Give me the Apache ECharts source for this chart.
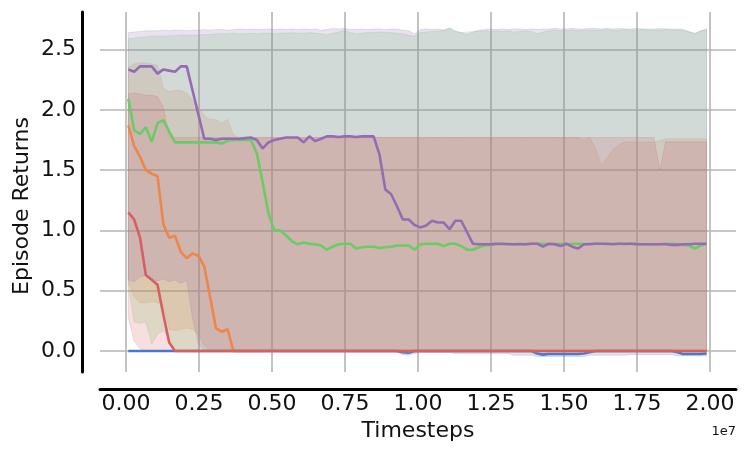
<!DOCTYPE html>
<html>
<head>
<meta charset="utf-8">
<script src="https://cdn.jsdelivr.net/npm/echarts@6/dist/echarts.min.js"></script>
<style>
  html, body { margin: 0; padding: 0; background: #fff; }
  #main { width: 748px; height: 457px; }
</style>
</head>
<body>
<div id="main"></div>
<script>
// timesteps, in millions (axis labels are shown in units of 1e7)
const timestepsM = [
  0.08, 0.28, 0.48, 0.68, 0.88, 1.08, 1.28, 1.48, 1.68, 1.88,
  2.08, 2.28, 2.48, 2.68, 2.88, 3.08, 3.28, 3.48, 3.68, 3.88,
  4.08, 4.28, 4.48, 4.68, 4.88, 5.08, 5.28, 5.48, 5.68, 5.88,
  6.08, 6.28, 6.48, 6.68, 6.88, 7.08, 7.28, 7.48, 7.68, 7.88,
  8.08, 8.28, 8.48, 8.68, 8.88, 9.08, 9.28, 9.48, 9.68, 9.88,
  10.08, 10.28, 10.48, 10.68, 10.88, 11.08, 11.28, 11.48, 11.68, 11.88,
  12.08, 12.28, 12.48, 12.68, 12.88, 13.08, 13.28, 13.48, 13.68, 13.88,
  14.08, 14.28, 14.48, 14.68, 14.88, 15.08, 15.28, 15.48, 15.68, 15.88,
  16.08, 16.28, 16.48, 16.68, 16.88, 17.08, 17.28, 17.48, 17.68, 17.88,
  18.08, 18.28, 18.48, 18.68, 18.88, 19.08, 19.28, 19.48, 19.68, 19.88
]
const xTicks = [0, 2.5, 5, 7.5, 10, 12.5, 15, 17.5, 20]
const yTicks = [0, 0.5, 1, 1.5, 2, 2.5]

// mean returns
const blueMean = [
  0, 0, 0, 0, 0, 0, 0, 0, 0, 0,
  0, 0, 0, 0, 0, 0, 0, 0, 0, 0,
  0, 0, 0, 0, 0, 0, 0, 0, 0, 0,
  0, 0, 0, 0, 0, 0, 0, 0, 0, 0,
  0, 0, 0, 0, 0, 0, 0, -0.01, -0.015, 0,
  0, 0, 0, 0, 0, 0, 0, 0, 0, 0,
  0, 0, 0, 0, 0, 0, 0, 0, 0, 0,
  -0.02, -0.03, -0.025, -0.025, -0.025, -0.025, -0.025, -0.025, -0.02, -0.01,
  0, 0, 0, 0, 0, 0, 0, 0, 0, 0,
  0, 0, 0, 0, -0.01, -0.025, -0.025, -0.025, -0.025, -0.02
]
const orangeMean = [
  1.87, 1.70, 1.61, 1.50, 1.47, 1.45, 1.05, 0.94, 0.955, 0.82,
  0.77, 0.81, 0.79, 0.70, 0.45, 0.19, 0.16, 0.18, 0, 0,
  0, 0, 0, 0, 0, 0, 0, 0, 0, 0,
  0, 0, 0, 0, 0, 0, 0, 0, 0, 0,
  0, 0, 0, 0, 0, 0, 0, 0, 0, 0,
  0, 0, 0, 0, 0, 0, 0, 0, 0, 0,
  0, 0, 0, 0, 0, 0, 0, 0, 0, 0,
  0, 0, 0, 0, 0, 0, 0, 0, 0, 0,
  0, 0, 0, 0, 0, 0, 0, 0, 0, 0,
  0, 0, 0, 0, 0, 0, 0, 0, 0, 0
]
const greenMean = [
  2.09, 1.83, 1.80, 1.855, 1.735, 1.89, 1.915, 1.82, 1.73, 1.73,
  1.73, 1.73, 1.73, 1.73, 1.73, 1.73, 1.72, 1.745, 1.75, 1.75,
  1.75, 1.75, 1.64, 1.40, 1.14, 1.00, 1.00, 0.96, 0.91, 0.885,
  0.90, 0.89, 0.885, 0.875, 0.84, 0.865, 0.885, 0.89, 0.89, 0.85,
  0.86, 0.865, 0.865, 0.855, 0.86, 0.865, 0.875, 0.875, 0.875, 0.84,
  0.885, 0.89, 0.89, 0.89, 0.87, 0.89, 0.89, 0.87, 0.84, 0.84,
  0.86, 0.875, 0.88, 0.885, 0.885, 0.89, 0.885, 0.89, 0.885, 0.89,
  0.89, 0.89, 0.885, 0.89, 0.89, 0.885, 0.89, 0.89, 0.885, 0.89,
  0.89, 0.89, 0.885, 0.89, 0.89, 0.885, 0.89, 0.89, 0.885, 0.885,
  0.885, 0.885, 0.89, 0.89, 0.885, 0.88, 0.875, 0.85, 0.875, 0.89
]
const redMean = [
  1.15, 1.09, 0.94, 0.63, 0.59, 0.55, 0.30, 0.07, 0, 0,
  0, 0, 0, 0, 0, 0, 0, 0, 0, 0,
  0, 0, 0, 0, 0, 0, 0, 0, 0, 0,
  0, 0, 0, 0, 0, 0, 0, 0, 0, 0,
  0, 0, 0, 0, 0, 0, 0, 0, 0, 0,
  0, 0, 0, 0, 0, 0, 0, 0, 0, 0,
  0, 0, 0, 0, 0, 0, 0, 0, 0, 0,
  0, 0, 0, 0, 0, 0, 0, 0, 0, 0,
  0, 0, 0, 0, 0, 0, 0, 0, 0, 0,
  0, 0, 0, 0, 0, 0, 0, 0, 0, 0
]
const purpleMean = [
  2.335, 2.315, 2.36, 2.36, 2.36, 2.30, 2.335, 2.325, 2.315, 2.36,
  2.36, 2.16, 1.96, 1.76, 1.76, 1.75, 1.76, 1.76, 1.76, 1.76,
  1.765, 1.77, 1.75, 1.68, 1.73, 1.75, 1.76, 1.77, 1.77, 1.77,
  1.73, 1.78, 1.74, 1.76, 1.78, 1.78, 1.775, 1.78, 1.78, 1.775,
  1.78, 1.78, 1.78, 1.63, 1.34, 1.30, 1.20, 1.09, 1.09, 1.045,
  1.025, 1.04, 1.08, 1.065, 1.065, 1.01, 1.08, 1.08, 0.985, 0.89,
  0.885, 0.885, 0.885, 0.89, 0.89, 0.885, 0.885, 0.885, 0.885, 0.89,
  0.89, 0.865, 0.89, 0.885, 0.87, 0.89, 0.865, 0.85, 0.885, 0.885,
  0.89, 0.89, 0.89, 0.885, 0.89, 0.89, 0.89, 0.885, 0.885, 0.885,
  0.885, 0.885, 0.885, 0.88, 0.88, 0.885, 0.885, 0.89, 0.89, 0.89
]

// shaded band edges
const blueLower = [
  0, 0, 0, 0, 0, 0, 0, 0, 0, 0,
  0, 0, 0, 0, 0, 0, 0, 0, 0, 0,
  0, 0, 0, 0, 0, 0, 0, 0, 0, 0,
  0, 0, 0, 0, 0, 0, 0, 0, 0, 0,
  0, 0, 0, 0, 0, 0, -0.01, -0.03, -0.035, -0.02,
  -0.01, -0.01, -0.01, -0.01, -0.01, -0.01, -0.02, -0.02, -0.02, -0.02,
  -0.02, -0.02, -0.02, -0.02, -0.02, -0.02, -0.035, -0.035, -0.035, -0.035,
  -0.045, -0.045, -0.045, -0.045, -0.045, -0.045, -0.045, -0.045, -0.045, -0.035,
  -0.035, -0.035, -0.035, -0.035, -0.035, -0.035, -0.03, -0.03, -0.03, -0.03,
  -0.03, -0.03, -0.03, -0.03, -0.04, -0.04, -0.04, -0.04, -0.04, -0.04
]
const blueUpper = [
  0, 0, 0, 0, 0, 0, 0, 0, 0, 0,
  0, 0, 0, 0, 0, 0, 0, 0, 0, 0,
  0, 0, 0, 0, 0, 0, 0, 0, 0, 0,
  0, 0, 0, 0, 0, 0, 0, 0, 0, 0,
  0, 0, 0, 0, 0, 0, 0, 0, 0, 0,
  0, 0, 0, 0, 0, 0, 0, 0, 0, 0,
  0, 0, 0, 0, 0, 0, 0, 0, 0, 0,
  0, 0, 0, 0, 0, 0, 0, 0, 0, 0,
  0, 0, 0, 0, 0, 0, 0, 0, 0, 0,
  0, 0, 0, 0, 0, 0, 0, 0, 0, 0
]
const orangeLower = [
  0.58, 0.45, 0.40, 0.40, 0.41, 0.40, 0.38, 0.18, 0.17, 0.18,
  0.19, 0.18, 0.14, 0.05, 0, 0, 0, 0, 0, 0,
  0, 0, 0, 0, 0, 0, 0, 0, 0, 0,
  0, 0, 0, 0, 0, 0, 0, 0, 0, 0,
  0, 0, 0, 0, 0, 0, 0, 0, 0, 0,
  0, 0, 0, 0, 0, 0, 0, 0, 0, 0,
  0, 0, 0, 0, 0, 0, 0, 0, 0, 0,
  0, 0, 0, 0, 0, 0, 0, 0, 0, 0,
  0, 0, 0, 0, 0, 0, 0, 0, 0, 0,
  0, 0, 0, 0, 0, 0, 0, 0, 0, 0
]
const orangeUpper = [
  2.355, 2.38, 2.39, 2.39, 2.38, 2.37, 2.18, 2.15, 2.16, 2.16,
  2.14, 2.08, 2.02, 1.95, 1.92, 1.92, 1.89, 1.92, 1.79, 1.77,
  1.77, 1.77, 1.77, 1.77, 1.77, 1.77, 1.77, 1.77, 1.77, 1.77,
  1.77, 1.77, 1.77, 1.77, 1.77, 1.77, 1.77, 1.77, 1.77, 1.77,
  1.77, 1.77, 1.77, 1.77, 1.77, 1.77, 1.77, 1.77, 1.77, 1.77,
  1.77, 1.77, 1.77, 1.77, 1.77, 1.77, 1.77, 1.77, 1.77, 1.77,
  1.77, 1.77, 1.77, 1.77, 1.77, 1.77, 1.77, 1.77, 1.77, 1.77,
  1.77, 1.77, 1.77, 1.77, 1.77, 1.77, 1.77, 1.77, 1.75, 1.77,
  1.68, 1.54, 1.60, 1.67, 1.71, 1.735, 1.73, 1.73, 1.73, 1.73,
  1.73, 1.745, 1.76, 1.76, 1.76, 1.76, 1.76, 1.76, 1.76, 1.76
]
const greenLower = [
  0.55, 0.24, 0.23, 0.24, 0.06, 0.14, 0.17, 0.10, 0.03, 0,
  0, 0, 0, 0, 0, 0, 0, 0, 0, 0,
  0, 0, 0, 0, 0, 0, 0, 0, 0, 0,
  0, 0, 0, 0, 0, 0, 0, 0, 0, 0,
  0, 0, 0, 0, 0, 0, 0, 0, 0, 0,
  0, 0, 0, 0, 0, 0, 0, 0, 0, 0,
  0, 0, 0, 0, 0, 0, 0, 0, 0, 0,
  0, 0, 0, 0, 0, 0, 0, 0, 0, 0,
  0, 0, 0, 0, 0, 0, 0, 0, 0, 0,
  0, 0, 0, 0, 0, 0, 0, 0, 0, 0
]
const greenUpper = [
  2.59, 2.595, 2.60, 2.605, 2.61, 2.61, 2.61, 2.615, 2.615, 2.62,
  2.62, 2.62, 2.62, 2.625, 2.625, 2.63, 2.63, 2.63, 2.635, 2.63,
  2.63, 2.635, 2.63, 2.635, 2.635, 2.63, 2.635, 2.635, 2.64, 2.635,
  2.635, 2.64, 2.635, 2.63, 2.62, 2.635, 2.645, 2.66, 2.64, 2.63,
  2.635, 2.64, 2.64, 2.645, 2.64, 2.64, 2.635, 2.63, 2.62, 2.61,
  2.64, 2.645, 2.65, 2.65, 2.66, 2.68, 2.655, 2.64, 2.645, 2.65,
  2.65, 2.655, 2.65, 2.655, 2.65, 2.655, 2.645, 2.65, 2.655, 2.65,
  2.63, 2.645, 2.655, 2.66, 2.655, 2.66, 2.66, 2.655, 2.66, 2.66,
  2.66, 2.66, 2.665, 2.66, 2.66, 2.665, 2.66, 2.66, 2.665, 2.66,
  2.66, 2.66, 2.665, 2.66, 2.66, 2.66, 2.645, 2.635, 2.655, 2.665
]
const redLower = [
  0.28, 0.08, 0.02, 0, 0, 0, 0, 0, 0, 0,
  0, 0, 0, 0, 0, 0, 0, 0, 0, 0,
  0, 0, 0, 0, 0, 0, 0, 0, 0, 0,
  0, 0, 0, 0, 0, 0, 0, 0, 0, 0,
  0, 0, 0, 0, 0, 0, 0, 0, 0, 0,
  0, 0, 0, 0, 0, 0, 0, 0, 0, 0,
  0, 0, 0, 0, 0, 0, 0, 0, 0, 0,
  0, 0, 0, 0, 0, 0, 0, 0, 0, 0,
  0, 0, 0, 0, 0, 0, 0, 0, 0, 0,
  0, 0, 0, 0, 0, 0, 0, 0, 0, 0
]
const redUpper = [
  2.13, 2.14, 2.13, 2.12, 2.12, 2.11, 2.02, 1.78, 1.77, 1.77,
  1.77, 1.77, 1.77, 1.77, 1.77, 1.77, 1.77, 1.77, 1.77, 1.77,
  1.77, 1.77, 1.77, 1.77, 1.77, 1.77, 1.77, 1.77, 1.77, 1.77,
  1.77, 1.77, 1.77, 1.77, 1.77, 1.77, 1.77, 1.77, 1.77, 1.77,
  1.77, 1.77, 1.77, 1.77, 1.77, 1.77, 1.77, 1.77, 1.77, 1.77,
  1.77, 1.77, 1.77, 1.77, 1.77, 1.77, 1.77, 1.77, 1.77, 1.77,
  1.77, 1.77, 1.77, 1.77, 1.77, 1.77, 1.77, 1.77, 1.77, 1.77,
  1.77, 1.77, 1.77, 1.77, 1.77, 1.77, 1.77, 1.77, 1.77, 1.77,
  1.77, 1.77, 1.77, 1.77, 1.77, 1.77, 1.77, 1.77, 1.77, 1.77,
  1.77, 1.50, 1.735, 1.735, 1.735, 1.735, 1.735, 1.735, 1.735, 1.735
]
const purpleLower = [
  0.59, 0.575, 0.615, 0.625, 0.60, 0.58, 0.60, 0.575, 0.59, 0.56,
  0.59, 0.27, 0.06, 0, 0, 0, 0, 0, 0, 0,
  0, 0, 0, 0, 0, 0, 0, 0, 0, 0,
  0, 0, 0, 0, 0, 0, 0, 0, 0, 0,
  0, 0, 0, 0, 0, 0, 0, 0, 0, 0,
  0, 0, 0, 0, 0, 0, 0, 0, 0, 0,
  0, 0, 0, 0, 0, 0, 0, 0, 0, 0,
  0, 0, 0, 0, 0, 0, 0, 0, 0, 0,
  0, 0, 0, 0, 0, 0, 0, 0, 0, 0,
  0, 0, 0, 0, 0, 0, 0, 0, 0, 0
]
const purpleUpper = [
  2.64, 2.645, 2.65, 2.655, 2.655, 2.655, 2.66, 2.655, 2.66, 2.66,
  2.655, 2.66, 2.66, 2.665, 2.66, 2.665, 2.665, 2.66, 2.665, 2.67,
  2.665, 2.67, 2.665, 2.665, 2.67, 2.665, 2.67, 2.665, 2.67, 2.665,
  2.67, 2.665, 2.67, 2.66, 2.665, 2.675, 2.67, 2.675, 2.665, 2.665,
  2.67, 2.665, 2.67, 2.67, 2.665, 2.67, 2.67, 2.66, 2.655, 2.63,
  2.665, 2.67, 2.665, 2.67, 2.66, 2.675, 2.65, 2.64, 2.625, 2.645,
  2.66, 2.665, 2.67, 2.665, 2.67, 2.665, 2.67, 2.67, 2.665, 2.67,
  2.665, 2.67, 2.67, 2.675, 2.67, 2.67, 2.675, 2.67, 2.67, 2.675,
  2.675, 2.67, 2.675, 2.67, 2.675, 2.67, 2.67, 2.675, 2.67, 2.67,
  2.67, 2.675, 2.67, 2.67, 2.67, 2.665, 2.65, 2.63, 2.655, 2.67
]

const font = '"DejaVu Sans", sans-serif'
const textColor = '#111'

const runs = [
  { name: 'blue', color: '#4878d0', rgb: '72,120,208', mean: blueMean, lower: blueLower, upper: blueUpper },
  { name: 'orange', color: '#ee854a', rgb: '238,133,74', mean: orangeMean, lower: orangeLower, upper: orangeUpper },
  { name: 'green', color: '#6acc64', rgb: '106,204,100', mean: greenMean, lower: greenLower, upper: greenUpper },
  { name: 'red', color: '#d65f5f', rgb: '214,95,95', mean: redMean, lower: redLower, upper: redUpper },
  { name: 'purple', color: '#956cb4', rgb: '149,108,180', mean: purpleMean, lower: purpleLower, upper: purpleUpper }
]

// one polygon per band, drawn through the axes with api.coord
function bandSeries(run) {
  return {
    type: 'custom',
    name: run.name + ' band',
    silent: true,
    z: 1,
    data: timestepsM.map((x, i) => [x, run.lower[i], run.upper[i]]),
    encode: { x: 0, y: [1, 2] },
    renderItem: (params, api) => {
      if (params.dataIndex !== 0) return null
      const top = timestepsM.map((x, i) => api.coord([x, run.upper[i]]))
      const bottom = timestepsM.map((x, i) => api.coord([x, run.lower[i]])).reverse()
      return {
        type: 'polygon',
        shape: { points: top.concat(bottom) },
        style: {
          fill: 'rgba(' + run.rgb + ',0.2)',
          stroke: 'rgba(' + run.rgb + ',0.2)',
          lineWidth: 1
        }
      }
    }
  }
}

function meanSeries(run) {
  return {
    type: 'line',
    name: run.name,
    z: 3,
    showSymbol: false,
    data: timestepsM.map((x, i) => [x, run.mean[i]]),
    lineStyle: { color: run.color, width: 2.6 },
    itemStyle: { color: run.color }
  }
}

const chart = echarts.init(document.getElementById('main'))
chart.setOption({
  animation: false,
  backgroundColor: '#fff',
  grid: { left: 100, right: 12, top: 12, bottom: 85 },
  xAxis: {
    type: 'value',
    min: -0.89,
    max: 20.89,
    offset: 17,
    axisLine: { show: true, onZero: false, lineStyle: { color: '#000', width: 3 } },
    axisTick: { show: false, customValues: xTicks },
    axisLabel: {
      customValues: xTicks,
      formatter: (v) => (v / 10).toFixed(2),
      fontFamily: font,
      fontSize: 22,
      color: textColor,
      margin: 4
    },
    splitLine: { show: true, lineStyle: { color: '#b4b4b4', width: 1.6 } },
    name: 'Timesteps',
    nameLocation: 'middle',
    nameGap: 31,
    nameTextStyle: { fontFamily: font, fontSize: 22, color: textColor }
  },
  yAxis: {
    type: 'value',
    min: -0.174,
    max: 2.811,
    offset: 18,
    axisLine: { show: true, onZero: false, lineStyle: { color: '#000', width: 3 } },
    axisTick: { show: false, customValues: yTicks },
    axisLabel: {
      customValues: yTicks,
      formatter: (v) => v.toFixed(1),
      fontFamily: font,
      fontSize: 22,
      color: textColor,
      margin: 6
    },
    splitLine: { show: true, lineStyle: { color: '#b4b4b4', width: 1.6 } }
  },
  graphic: [
    {
      type: 'text',
      x: 22,
      y: 206,
      rotation: Math.PI / 2,
      style: { text: 'Episode Returns', fill: textColor, font: '22px ' + font, align: 'center', verticalAlign: 'middle' }
    },
    {
      type: 'text',
      x: 736,
      y: 425,
      style: { text: '1e7', fill: textColor, font: '13px ' + font, align: 'right', verticalAlign: 'top' }
    }
  ],
  series: runs.map(bandSeries).concat(runs.map(meanSeries))
})
</script>
</body>
</html>
